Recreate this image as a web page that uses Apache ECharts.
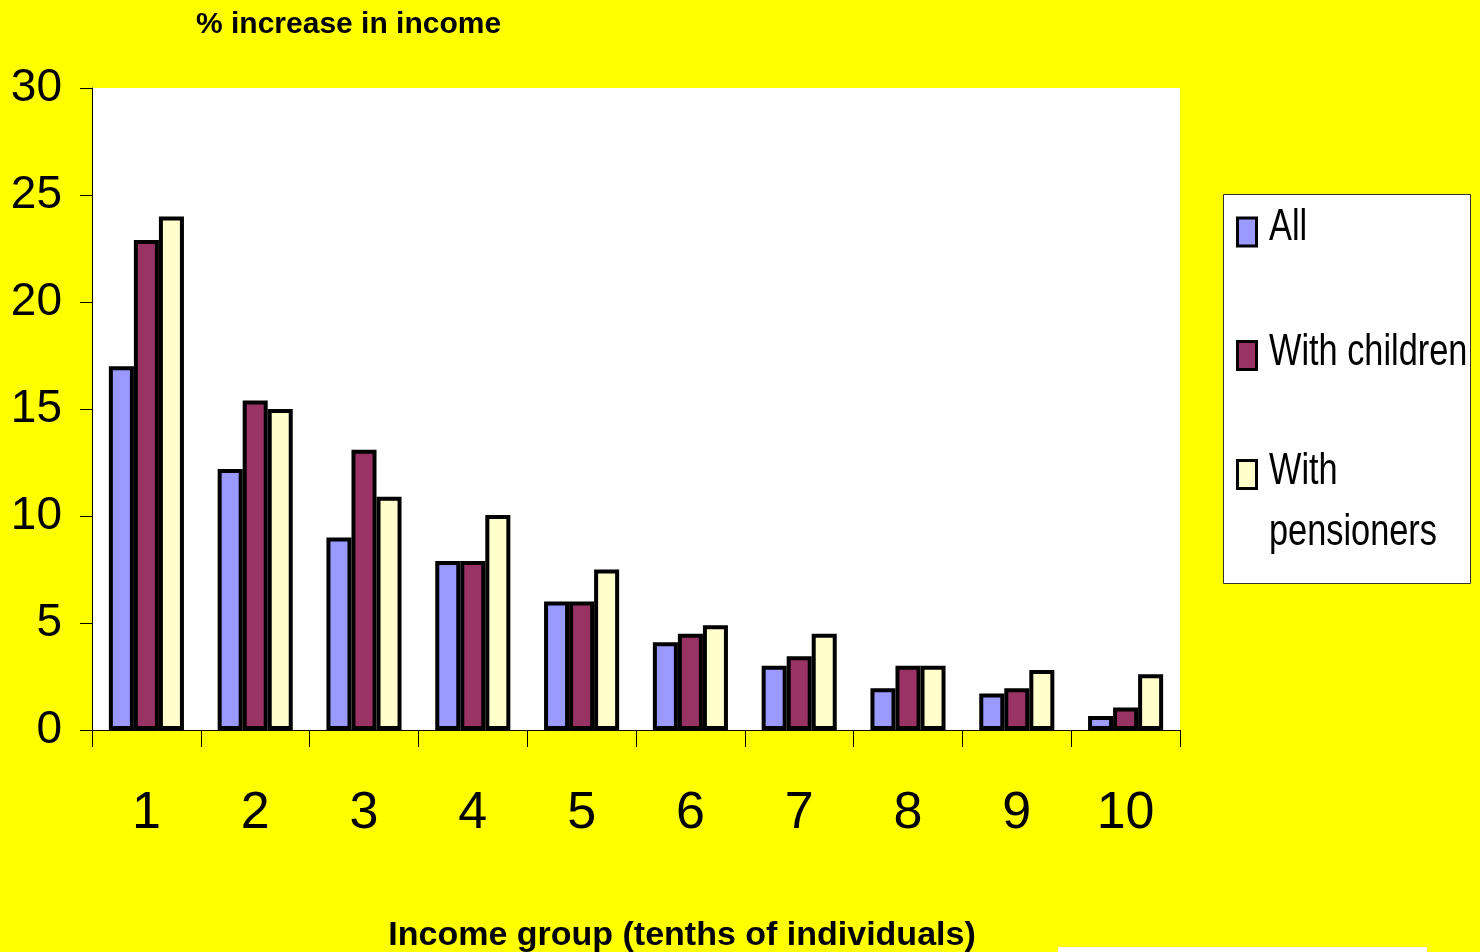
<!DOCTYPE html>
<html>
<head>
<meta charset="utf-8">
<script src="https://cdn.jsdelivr.net/npm/echarts@6/dist/echarts.min.js"></script>
<style>
html,body{margin:0;padding:0;background:#FFFF00;}
#chart{width:1480px;height:952px;}
</style>
</head>
<body>
<div id="chart"></div>
<script>
var categories = ['1','2','3','4','5','6','7','8','9','10'];
var seriesNames = ['All', 'With children', 'With pensioners'];
var legendLines = [['All'], ['With children'], ['With', 'pensioners']];
var allValues = [17.0, 12.2, 9.0, 7.9, 6.0, 4.1, 3.0, 1.95, 1.7, 0.65];
var childrenValues = [22.9, 15.4, 13.1, 7.9, 6.0, 4.5, 3.45, 3.0, 1.95, 1.05];
var pensionerValues = [24.0, 15.0, 10.9, 10.05, 7.5, 4.9, 4.5, 3.0, 2.8, 2.6];
var yTicks = {min: 0, max: 30, interval: 5};

var SANS = '"Liberation Sans", Arial, sans-serif';

var chart = echarts.init(document.getElementById('chart'), null, {renderer: 'canvas'});

function barSeries(name, data, color) {
  return {
    name: name,
    type: 'bar',
    data: data,
    barGap: '0%',
    barCategoryGap: '31%',
    itemStyle: {color: color, borderColor: '#000', borderWidth: 4},
    emphasis: {disabled: true}
  };
}

// legend icons from ECharts legend components; labels drawn as narrow text
var legendIconCenters = [230.5, 354, 473];
function legendFor(name, centerY) {
  return {
    data: [name],
    orient: 'vertical',
    left: 1236,
    top: centerY - 14,
    padding: 0,
    itemWidth: 19,
    itemHeight: 28,
    icon: 'rect',
    selectedMode: false,
    formatter: function () { return ''; },
    itemStyle: {borderColor: '#000', borderWidth: 3},
    textStyle: {fontSize: 1}
  };
}

var legendTextY = [[228], [352.5], [472, 533]];
var legendTexts = [];
legendLines.forEach(function (lines, i) {
  lines.forEach(function (line, j) {
    legendTexts.push({
      type: 'text', z: 10, x: 1269, y: legendTextY[i][j], scaleX: 0.78,
      style: {text: line, fontFamily: SANS, fontSize: 44, fill: '#000', verticalAlign: 'middle', align: 'left'}
    });
  });
});

var option = {
  backgroundColor: '#FFFF00',
  animation: false,
  title: {
    text: '% increase in income',
    left: 191,
    top: 5,
    textStyle: {fontFamily: SANS, fontSize: 30, fontWeight: 'bold', color: '#000'}
  },
  graphic: [
    {type: 'rect', z: 0, shape: {x: 1223.5, y: 194.5, width: 247, height: 389},
     style: {fill: '#FFFFFF', stroke: '#333', lineWidth: 1}},
    {type: 'rect', z: 0, shape: {x: 1058, y: 947, width: 369, height: 5},
     style: {fill: '#FFFFFF'}}
  ].concat(legendTexts),
  legend: [
    legendFor(seriesNames[0], legendIconCenters[0]),
    legendFor(seriesNames[1], legendIconCenters[1]),
    legendFor(seriesNames[2], legendIconCenters[2])
  ],
  grid: {
    left: 92, right: 300, top: 88, bottom: 222,
    outerBoundsMode: 'none',
    containLabel: false,
    show: true, backgroundColor: '#FFFFFF', borderWidth: 0
  },
  xAxis: {
    type: 'category',
    data: categories,
    name: 'Income group (tenths of individuals)',
    nameLocation: 'middle',
    nameGap: 189,
    nameTextStyle: {fontFamily: SANS, fontSize: 34, fontWeight: 'bold', color: '#000', padding: [0, 0, 0, 92], verticalAlign: 'top'},
    axisLine: {lineStyle: {color: '#000', width: 1}},
    axisTick: {show: true, length: 17, lineStyle: {color: '#000', width: 1}},
    axisLabel: {fontFamily: SANS, fontSize: 52, color: '#000', margin: 58},
    splitLine: {show: false}
  },
  yAxis: {
    type: 'value',
    min: yTicks.min, max: yTicks.max, interval: yTicks.interval,
    axisLine: {show: true, lineStyle: {color: '#000', width: 1}},
    axisTick: {show: true, length: 12, lineStyle: {color: '#000', width: 1}},
    axisLabel: {fontFamily: SANS, fontSize: 46, color: '#000', margin: 30},
    splitLine: {show: false}
  },
  series: [
    barSeries(seriesNames[0], allValues, '#9999FF'),
    barSeries(seriesNames[1], childrenValues, '#993366'),
    barSeries(seriesNames[2], pensionerValues, '#FFFFCC')
  ]
};
chart.setOption(option);
</script>
</body>
</html>
